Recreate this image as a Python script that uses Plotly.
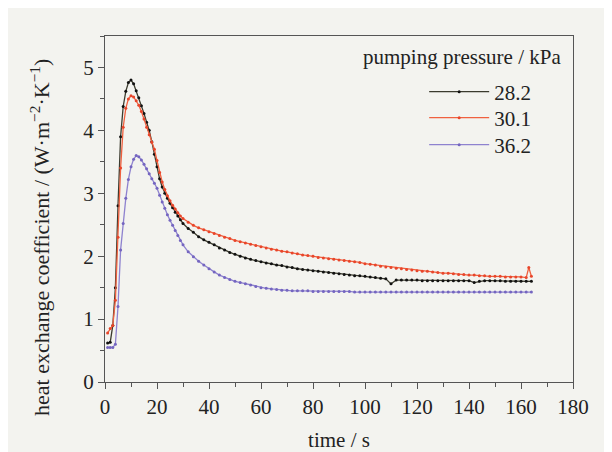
import plotly.graph_objects as go

# ---- data ----
t_282 = list(range(1, 31)) + list(range(32, 166, 2))
v_282 = [0.62, 0.63, 0.90, 1.50, 2.80, 3.90, 4.38, 4.62, 4.76, 4.80,
         4.74, 4.63, 4.52, 4.39, 4.27, 4.13, 4.00, 3.82, 3.62, 3.42,
         3.23, 3.10, 3.00, 2.92, 2.84, 2.77, 2.70, 2.64, 2.58, 2.52,
         2.44, 2.38, 2.31, 2.26, 2.22, 2.18, 2.13, 2.10, 2.06, 2.03,
         2.00, 1.97, 1.95, 1.93, 1.91, 1.89, 1.88, 1.86, 1.85, 1.83,
         1.82, 1.80, 1.79, 1.78, 1.77, 1.76, 1.75, 1.74, 1.73, 1.72,
         1.71, 1.70, 1.69, 1.69, 1.68, 1.67, 1.66, 1.65, 1.64, 1.56,
         1.62, 1.62, 1.62, 1.62, 1.62, 1.61, 1.61, 1.61, 1.61, 1.61,
         1.61, 1.61, 1.61, 1.61, 1.61, 1.58, 1.60, 1.61, 1.61, 1.61,
         1.61, 1.60, 1.60, 1.60, 1.60, 1.60, 1.60]

t_301 = list(range(1, 31)) + list(range(32, 163, 2)) + [163, 164]
v_301 = [0.78, 0.85, 0.90, 1.30, 2.30, 3.40, 4.05, 4.35, 4.50, 4.55,
         4.53, 4.47, 4.40, 4.30, 4.18, 4.05, 3.93, 3.81, 3.70, 3.52,
         3.33, 3.18, 3.06, 2.96, 2.88, 2.81, 2.75, 2.69, 2.64, 2.60,
         2.54, 2.49, 2.45, 2.42, 2.39, 2.36, 2.33, 2.30, 2.28, 2.25,
         2.23, 2.21, 2.19, 2.17, 2.15, 2.13, 2.11, 2.10, 2.08, 2.07,
         2.05, 2.04, 2.02, 2.01, 2.00, 1.98, 1.97, 1.96, 1.95, 1.94,
         1.93, 1.92, 1.91, 1.90, 1.88, 1.87, 1.86, 1.84, 1.83, 1.82,
         1.81, 1.80, 1.79, 1.78, 1.77, 1.76, 1.76, 1.75, 1.74, 1.73,
         1.73, 1.72, 1.71, 1.71, 1.70, 1.70, 1.69, 1.69, 1.68, 1.68,
         1.68, 1.67, 1.67, 1.67, 1.67, 1.66, 1.82, 1.68]

t_362 = list(range(1, 31)) + list(range(32, 166, 2))
v_362 = [0.55, 0.55, 0.55, 0.60, 1.20, 2.10, 2.52, 2.92, 3.22, 3.42,
         3.54, 3.60, 3.58, 3.53, 3.46, 3.39, 3.31, 3.23, 3.16, 3.08,
         2.97, 2.86, 2.76, 2.66, 2.57, 2.49, 2.41, 2.33, 2.25, 2.18,
         2.07, 1.99, 1.92, 1.86, 1.80, 1.75, 1.70, 1.66, 1.63, 1.60,
         1.58, 1.56, 1.54, 1.52, 1.50, 1.49, 1.48, 1.47, 1.46, 1.46,
         1.45, 1.45, 1.45, 1.45, 1.44, 1.44, 1.44, 1.44, 1.44, 1.44,
         1.44, 1.44, 1.43, 1.43, 1.43, 1.43, 1.43, 1.43, 1.43, 1.43,
         1.43, 1.43, 1.43, 1.43, 1.43, 1.43, 1.43, 1.43, 1.43, 1.43,
         1.43, 1.43, 1.43, 1.43, 1.43, 1.43, 1.43, 1.43, 1.43, 1.43,
         1.43, 1.43, 1.43, 1.43, 1.43, 1.43, 1.43]

labels = ["28.2", "30.1", "36.2"]
x_ticks = [0, 20, 40, 60, 80, 100, 120, 140, 160, 180]
y_ticks = [0, 1, 2, 3, 4, 5]

FONT = "Liberation Serif"
FS = 21
BG = "#f3f3ef"
AXC = "#555555"

series = [
    (t_282, v_282, labels[0], "#3b3b2e", "#111111", "legend", 0.838),
    (t_301, v_301, labels[1], "#f0603f", "#e8452a", "legend2", 0.763),
    (t_362, v_362, labels[2], "#8e82cf", "#7465c0", "legend3", 0.685),
]

fig = go.Figure()
legends = {}
for t, v, name, lc, mc, lg, ly in series:
    fig.add_trace(go.Scatter(
        x=t, y=v, name=name, mode="lines+markers", legend=lg,
        line=dict(color=lc, width=1.3),
        marker=dict(color=mc, size=3),
    ))
    legends[lg] = dict(x=0.682, y=ly, xanchor="left", yanchor="middle",
                       bgcolor="rgba(0,0,0,0)",
                       font=dict(family=FONT, size=FS, color="#222222"),
                       itemwidth=60)

fig.update_layout(
    width=604, height=444,
    margin=dict(l=97, r=39, t=28, b=70, autoexpand=False),
    paper_bgcolor=BG, plot_bgcolor=BG,
    font=dict(family=FONT, size=FS, color="#222222"),
    showlegend=True,
    **legends,
    annotations=[
        dict(text="pumping pressure / kPa", x=0.763, y=0.939,
             xref="paper", yref="paper", showarrow=False,
             xanchor="center", yanchor="middle",
             font=dict(size=FS, family=FONT)),
        dict(text="heat exchange coefficient / (W·m<sup>−2</sup>·K<sup>−1</sup>)",
             x=-0.139, y=0.419, xref="paper", yref="paper", showarrow=False,
             textangle=-90, xanchor="center", yanchor="middle",
             font=dict(size=22, family=FONT)),
    ],
)

fig.update_xaxes(
    range=[0, 180], tickvals=x_ticks, ticks="outside", ticklen=6,
    tickcolor=AXC, showline=True, linecolor=AXC, linewidth=1.3,
    mirror=True, showgrid=False, zeroline=False, automargin=False,
    tickfont=dict(family=FONT, size=FS),
    title=dict(text="time / s", standoff=14, font=dict(family=FONT, size=FS)),
    minor=dict(dtick=10, ticks="outside", ticklen=4, tickcolor=AXC),
)
fig.update_yaxes(
    range=[0, 5.5], tickvals=y_ticks, ticks="outside", ticklen=6,
    tickcolor=AXC, showline=True, linecolor=AXC, linewidth=1.3,
    mirror=True, showgrid=False, zeroline=False, automargin=False,
    tickfont=dict(family=FONT, size=FS),
    minor=dict(dtick=0.5, ticks="outside", ticklen=4, tickcolor=AXC),
)

fig.write_html("out.html")
